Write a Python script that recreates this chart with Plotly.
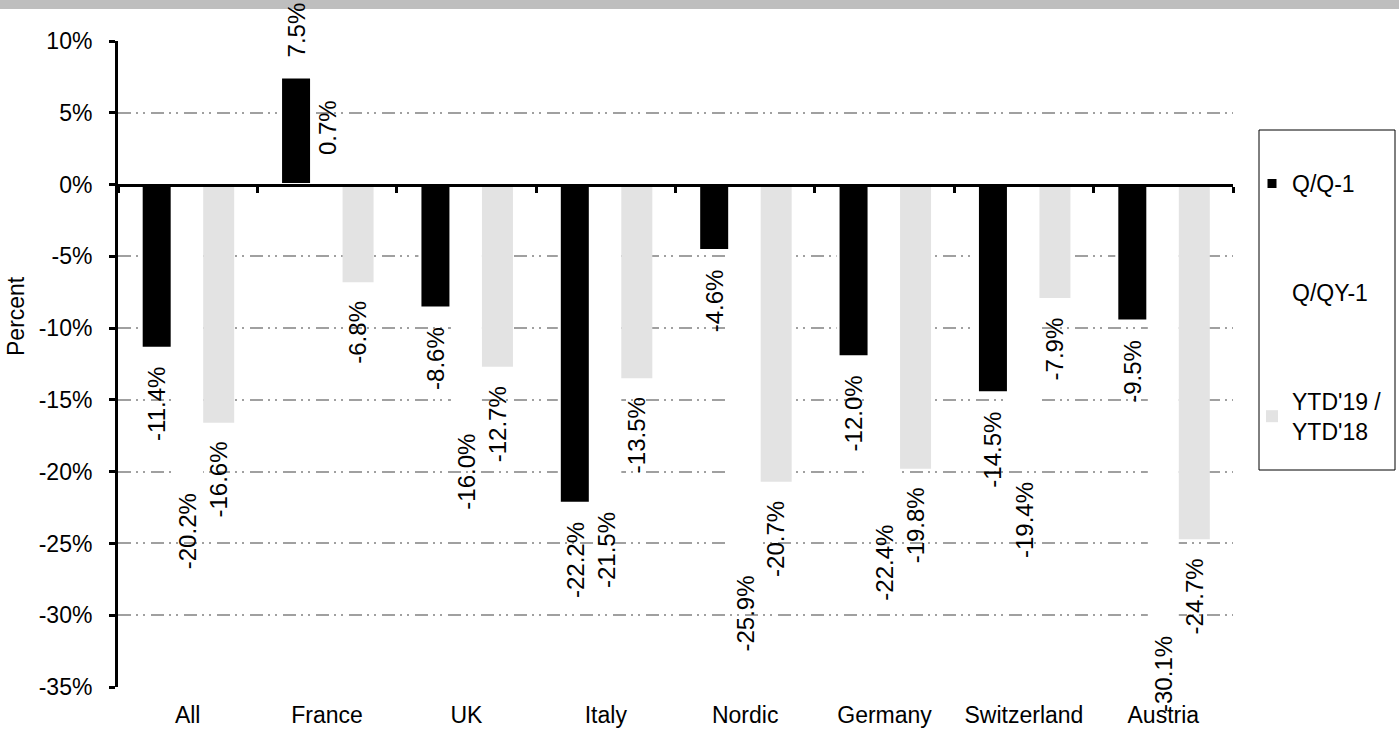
import plotly.graph_objects as go

# ---- data ----
categories = ["All", "France", "UK", "Italy", "Nordic", "Germany", "Switzerland", "Austria"]
q_q1 = [-11.4, 7.5, -8.6, -22.2, -4.6, -12.0, -14.5, -9.5]
q_qy1 = [-20.2, 0.7, -16.0, -21.5, -25.9, -22.4, -19.4, -30.1]
ytd = [-16.6, -6.8, -12.7, -13.5, -20.7, -19.8, -7.9, -24.7]
series_names = ["Q/Q-1", "Q/QY-1", "YTD'19 /<br>YTD'18"]
y_tick_values = [10, 5, 0, -5, -10, -15, -20, -25, -30, -35]
y_tick_labels = ["10%", "5%", "0%", "-5%", "-10%", "-15%", "-20%", "-25%", "-30%", "-35%"]

# ---- geometry (pixels) ----
W, H = 1399, 731
L, R, T, B = 118, 1233, 41, 687
pw, ph = R - L, B - T
def px_x(x):
    return (x - L) / pw
def px_y(y):
    return (B - y) / ph

FONT = "Liberation Sans, Arial, sans-serif"
colors = ["#000000", "#ffffff", "#e3e3e3"]
line_w = [3, 0, 0]
series = [q_q1, q_qy1, ytd]
slot = 31
shifts = [-slot, 0, slot]

fig = go.Figure()
for i, (name, vals) in enumerate(zip(series_names, series)):
    fig.add_trace(go.Bar(
        x=categories, y=vals, name=name,
        marker=dict(color=colors[i], line=dict(color="white", width=line_w[i])),
        legendgroup=str(i), hoverinfo="skip",
    ))

# dummy trace to register categories on the zero-line axis
fig.add_trace(go.Scatter(x=categories, y=q_q1, xaxis="x2", mode="markers",
                         marker=dict(opacity=0), showlegend=False, hoverinfo="skip"))

# data labels
for i, vals in enumerate(series):
    for c, v in zip(categories, vals):
        pos = v >= 0
        fig.add_annotation(
            x=c, y=v, text=f"{v:.1f}%", textangle=-90, showarrow=False,
            xshift=shifts[i], yshift=(17 if pos else -17),
            yanchor=("bottom" if pos else "top"), xanchor="center",
            font=dict(family=FONT, size=24, color="black"),
        )

# y-axis title
fig.add_annotation(xref="paper", yref="paper", x=px_x(16), y=px_y(316),
                   xanchor="center", yanchor="middle",
                   text="Percent", textangle=-90, showarrow=False,
                   font=dict(family=FONT, size=23, color="black"))

# top grey band and legend box
fig.add_shape(type="rect", xref="paper", yref="paper",
              x0=px_x(0), x1=px_x(W), y0=px_y(9), y1=px_y(0),
              fillcolor="#bebebe", line=dict(width=0), layer="above")
fig.add_shape(type="rect", xref="paper", yref="paper",
              x0=px_x(1259), x1=px_x(1395), y0=px_y(470), y1=px_y(130),
              fillcolor="rgba(0,0,0,0)", line=dict(color="black", width=1), layer="above")

grid_dash = "13px,5px,2px,5px,2px,6px"

fig.update_layout(
    width=W, height=H,
    margin=dict(l=L, r=W - R, t=T, b=H - B, pad=0, autoexpand=False),
    paper_bgcolor="white", plot_bgcolor="white",
    barmode="group", bargap=1 - 3 * slot / (pw / len(categories)), bargroupgap=0,
    font=dict(family=FONT, size=23, color="black"),
    showlegend=True,
    legend=dict(x=px_x(1252), y=px_y(162), xanchor="left", yanchor="top",
                bgcolor="rgba(0,0,0,0)", borderwidth=0, tracegroupgap=76,
                font=dict(family=FONT, size=23, color="black")),
    xaxis=dict(type="category", range=[-0.5, len(categories) - 0.5], automargin=False,
               showline=False, ticks="", showgrid=False, zeroline=False,
               tickfont=dict(family=FONT, size=23, color="black"),
               ticklabelstandoff=12),
    xaxis2=dict(type="category", overlaying="x", anchor="free", position=35 / 45,
                range=[-0.5, len(categories) - 0.5], automargin=False,
                showline=True, linecolor="black", linewidth=3,
                ticks="outside", tickson="boundaries", ticklen=6, tickwidth=3, tickcolor="black",
                showticklabels=False, showgrid=False, zeroline=False),
    yaxis=dict(range=[-35, 10], tickvals=y_tick_values, ticktext=y_tick_labels, automargin=False,
               showline=True, linecolor="black", linewidth=3,
               ticks="outside", ticklen=6, tickwidth=3, tickcolor="black",
               showgrid=True, gridcolor="#a0a0a0", gridwidth=1.5, griddash=grid_dash,
               zeroline=False, ticklabelstandoff=12,
               tickfont=dict(family=FONT, size=23, color="black")),
)

fig.write_html(
    "out.html",
    config={"displayModeBar": False},
    post_script="document.body.style.margin='0';",
)
